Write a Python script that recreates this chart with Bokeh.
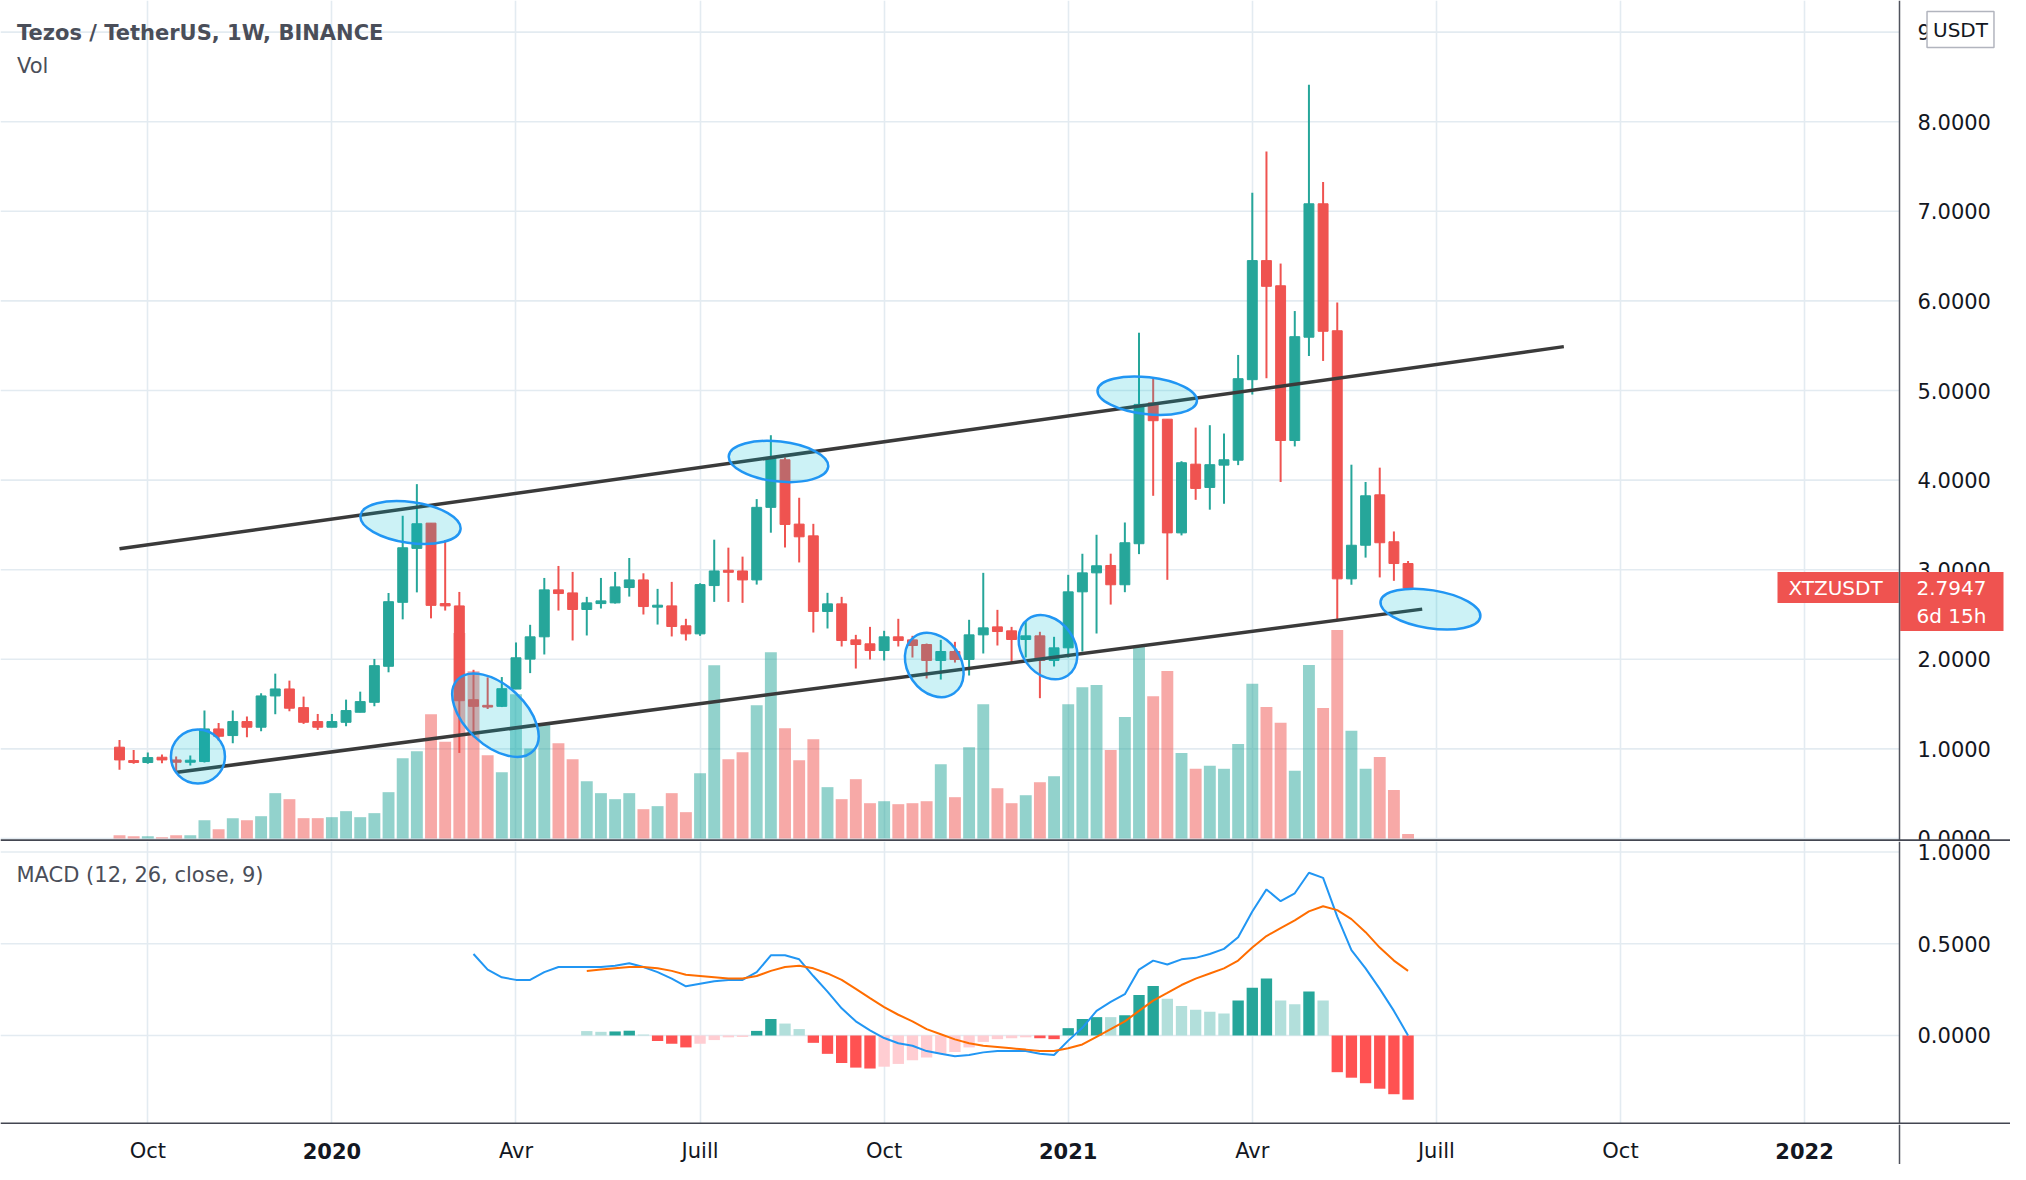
from bokeh.plotting import figure
from bokeh.models import (ColumnDataSource, FixedTicker, Label, Span, Range1d)
from bokeh.layouts import column
from bokeh.embed import file_html
from bokeh.resources import INLINE
from bokeh.core.properties import value

# ---------------- data (weekly XTZ/USDT, Binance) ----------------
opens = [1.019, 0.870, 0.848, 0.907, 0.877, 0.851, 0.859, 1.223, 1.149, 1.305,
         1.242, 1.591, 1.669, 1.461, 1.305, 1.242, 1.297, 1.409, 1.520, 1.922,
         2.636, 3.238, 3.520, 2.622, 2.596, 1.549, 1.486, 1.475, 1.668, 2.002,
         2.251, 2.775, 2.741, 2.556, 2.622, 2.630, 2.801, 2.886, 2.582, 2.596,
         2.374, 2.284, 2.823, 2.994, 2.986, 2.886, 3.696, 4.227, 3.509, 3.378,
         2.534, 2.619, 2.217, 2.173, 2.098, 2.251, 2.217, 2.165, 1.987, 2.087,
         1.998, 2.273, 2.362, 2.318, 2.221, 2.262, 1.987, 2.128, 2.753, 2.965,
         3.047, 2.832, 3.290, 4.862, 4.680, 3.411, 4.178, 3.918, 4.167, 4.222,
         5.121, 6.450, 6.169, 4.442, 5.595, 7.084, 5.667, 2.898, 3.273, 3.836,
         3.312, 3.069]
highs = [1.100, 0.989, 0.959, 0.937, 0.914, 0.926, 1.428, 1.290, 1.428, 1.361,
         1.621, 1.840, 1.762, 1.584, 1.390, 1.390, 1.550, 1.639, 2.004, 2.740,
         3.602, 3.955, 3.520, 3.332, 2.752, 1.883, 1.798, 1.802, 2.188, 2.385,
         2.908, 3.042, 2.975, 2.697, 2.908, 2.975, 3.131, 2.960, 2.786, 2.864,
         2.452, 2.849, 3.335, 3.246, 3.146, 3.788, 4.501, 4.253, 3.803, 3.512,
         2.742, 2.697, 2.273, 2.362, 2.318, 2.452, 2.262, 2.176, 2.217, 2.195,
         2.441, 2.965, 2.552, 2.362, 2.429, 2.307, 2.251, 2.943, 3.178, 3.390,
         3.179, 3.527, 5.645, 5.137, 4.680, 4.211, 4.586, 4.613, 4.520, 5.397,
         7.206, 7.669, 6.417, 5.887, 8.414, 7.327, 5.981, 4.172, 3.979, 4.139,
         3.427, 3.097]
lows = [0.766, 0.833, 0.833, 0.840, 0.740, 0.814, 0.848, 1.093, 1.063, 1.130,
        1.197, 1.387, 1.420, 1.279, 1.212, 1.242, 1.253, 1.409, 1.476, 1.855,
        2.446, 2.747, 2.457, 2.544, 0.955, 1.130, 1.445, 1.467, 1.668, 1.846,
        2.054, 2.544, 2.210, 2.266, 2.567, 2.622, 2.700, 2.500, 2.388, 2.255,
        2.210, 2.262, 2.641, 2.641, 2.630, 2.834, 3.413, 3.248, 3.081, 2.299,
        2.344, 2.143, 1.897, 1.998, 1.987, 2.143, 2.020, 1.786, 1.774, 1.964,
        1.819, 2.065, 2.154, 1.953, 2.020, 1.566, 1.920, 2.020, 2.087, 2.288,
        2.611, 2.749, 3.174, 3.825, 2.887, 3.383, 3.780, 3.670, 3.736, 4.167,
        4.955, 5.137, 3.979, 4.376, 5.386, 5.330, 2.424, 2.832, 3.135, 2.914,
        2.876, 2.780]
closes = [0.877, 0.848, 0.903, 0.877, 0.851, 0.874, 1.223, 1.141, 1.305, 1.242,
          1.591, 1.669, 1.454, 1.297, 1.242, 1.305, 1.428, 1.528, 1.929, 2.643,
          3.245, 3.513, 2.602, 2.596, 1.538, 1.475, 1.467, 1.672, 2.017, 2.251,
          2.775, 2.734, 2.556, 2.630, 2.652, 2.808, 2.886, 2.589, 2.604, 2.366,
          2.284, 2.834, 2.986, 2.971, 2.886, 3.696, 4.253, 3.505, 3.367, 2.534,
          2.619, 2.210, 2.165, 2.098, 2.251, 2.210, 2.154, 1.987, 2.087, 1.998,
          2.273, 2.351, 2.310, 2.221, 2.262, 1.987, 2.128, 2.753, 2.965, 3.044,
          2.832, 3.301, 4.845, 4.663, 3.411, 4.194, 3.907, 4.172, 4.227, 5.132,
          6.450, 6.163, 4.442, 5.601, 7.084, 5.661, 2.898, 3.273, 3.825, 3.301,
          3.069, 2.7947]
volumes_m = [0.37, 0.26, 0.26, 0.15, 0.37, 0.37, 2.04, 1.04, 2.27, 2.04,
             2.49, 5.06, 4.39, 2.27, 2.27, 2.38, 3.05, 2.38, 2.83, 5.17,
             8.96, 9.74, 13.87, 10.8, 22.94, 18.66, 9.29, 7.40, 16.10, 10.04,
             12.71, 10.63, 8.85, 6.39, 5.06, 4.39, 5.06, 3.27, 3.61, 5.06,
             2.94, 7.29, 19.33, 8.85, 9.63, 14.87, 20.78, 12.30, 8.74, 11.08,
             5.73, 4.39, 6.62, 3.94, 4.16, 3.83, 3.94, 4.16, 8.29, 4.61,
             10.19, 14.98, 5.61, 3.94, 4.83, 6.28, 6.95, 14.98, 16.88, 17.12,
             9.87, 13.57, 21.46, 15.89, 18.70, 9.54, 7.78, 8.11, 7.78, 10.54,
             17.26, 14.67, 12.91, 7.56, 19.36, 14.56, 23.28, 12.02, 7.78, 9.10,
             5.41, 0.50]

# MACD (12, 26, close, 9): first value on bar 25, signal/histogram from bar 33
macd_start = 25
macd_line = [0.444, 0.359, 0.317, 0.303, 0.303, 0.345, 0.373, 0.373, 0.373, 0.373,
             0.380, 0.394, 0.373, 0.345, 0.310, 0.268, 0.282, 0.296, 0.303, 0.303,
             0.345, 0.437, 0.437, 0.415, 0.324, 0.239, 0.148, 0.077, 0.028, -0.014,
             -0.042, -0.056, -0.085, -0.099, -0.113, -0.106, -0.092, -0.085, -0.085, -0.085,
             -0.099, -0.106, -0.028, 0.042, 0.134, 0.183, 0.225, 0.359, 0.408, 0.387,
             0.415, 0.423, 0.444, 0.472, 0.535, 0.676, 0.796, 0.732, 0.775, 0.887,
             0.859, 0.648, 0.465, 0.366, 0.254, 0.134, 0.000]
signal_start = 33
signal_line = [0.352, 0.359, 0.366, 0.373, 0.373, 0.366, 0.352, 0.331, 0.324, 0.317,
               0.310, 0.310, 0.324, 0.352, 0.373, 0.380, 0.366, 0.338, 0.303, 0.254,
               0.204, 0.155, 0.113, 0.077, 0.035, 0.007, -0.021, -0.042, -0.056, -0.063,
               -0.070, -0.077, -0.085, -0.085, -0.070, -0.049, -0.007, 0.035, 0.077, 0.134,
               0.190, 0.232, 0.275, 0.310, 0.338, 0.366, 0.408, 0.479, 0.542, 0.585,
               0.627, 0.676, 0.704, 0.683, 0.634, 0.563, 0.479, 0.408, 0.352]
histogram = [0.024, 0.020, 0.022, 0.026, 0.005, -0.030, -0.045, -0.065, -0.045, -0.025,
             -0.010, -0.008, 0.025, 0.090, 0.065, 0.035, -0.040, -0.100, -0.150, -0.175,
             -0.180, -0.170, -0.155, -0.135, -0.120, -0.100, -0.090, -0.065, -0.035, -0.020,
             -0.015, -0.010, -0.015, -0.020, 0.040, 0.090, 0.100, 0.100, 0.110, 0.220,
             0.270, 0.200, 0.160, 0.140, 0.130, 0.120, 0.190, 0.260, 0.310, 0.190,
             0.170, 0.240, 0.190, -0.200, -0.230, -0.260, -0.290, -0.320, -0.350]

tick_bars = [2, 15, 28, 41, 54, 67, 80, 93, 106, 119]
tick_labels = ["Oct", "2020", "Avr", "Juill", "Oct", "2021", "Avr", "Juill", "Oct", "2022"]
tick_bold = [False, True, False, False, False, True, False, False, False, True]
price_ticks = [0, 1, 2, 3, 4, 5, 6, 7, 8, 9]
macd_ticks = [0.0, 0.5, 1.0]

# drawings: trend channel and highlighted touches (bar index, price)
trend_x0 = [0.0, 4.07]
trend_y0 = [3.233, 0.74]
trend_x1 = [102.0, 92.0]
trend_y1 = [5.49, 2.56]
ell_x = [5.54, 20.55, 26.55, 46.54, 57.54, 65.57, 72.58, 92.58]
ell_y = [0.915, 3.527, 1.376, 4.208, 1.936, 2.135, 4.942, 2.560]
ell_w = [54, 101, 104, 100, 69, 69, 100, 101]
ell_h = [54, 41, 60, 40, 53, 53, 37, 38]
ell_deg = [0, -8, -43, -6.3, -55, -55, -6.5, -9]

# ---------------- styling / geometry ----------------
GREEN = "#26a69a"
RED = "#ef5350"
TXT = "#131722"
LEG = "#4a4e59"
GRID = "#e3ebf1"
AXIS = "#50535e"
FONT = "DejaVu Sans"
FS = "21px"

W = 2010
PX_PER_BAR = 14.16
X0 = -119 / PX_PER_BAR                 # left edge of the canvas in bar units
X_END = (W - 119) / PX_PER_BAR         # right edge of the canvas
SCALE_X = (1899 - 119) / PX_PER_BAR    # price-scale border
LABEL_X = (1917 - 119) / PX_PER_BAR    # start of price-scale labels
XR = Range1d(X0, X_END)

n = len(opens)
bars = list(range(n))
col = [GREEN if c >= o else RED for o, c in zip(opens, closes)]
src = ColumnDataSource(dict(
    x=bars, o=opens, h=highs, l=lows, c=closes,
    top=[max(o, c) for o, c in zip(opens, closes)],
    bot=[min(o, c) for o, c in zip(opens, closes)],
    vol=volumes_m, color=col))


def base_fig(height, yr):
    p = figure(width=W, height=height, x_range=XR, y_range=yr,
               x_axis_location=None, y_axis_location=None,
               output_backend="svg", toolbar_location=None, min_border=0)
    p.outline_line_color = None
    p.background_fill_color = "white"
    p.border_fill_color = "white"
    p.xgrid.ticker = FixedTicker(ticks=tick_bars)
    p.xgrid.grid_line_color = GRID
    p.xgrid.grid_line_width = 1.6
    p.ygrid.visible = False
    p.add_layout(Span(location=SCALE_X, dimension="height", line_color=AXIS, line_width=1.5))
    return p


def price_scale(p, ticks, fmt):
    # horizontal grid limited to the chart area, labels in the price scale
    p.segment(x0=[X0] * len(ticks), x1=[SCALE_X] * len(ticks), y0=ticks, y1=ticks,
              line_color=GRID, line_width=1.6, level="underlay")
    p.text(x=[LABEL_X] * len(ticks), y=ticks, text=[fmt % t for t in ticks],
           text_align="left", text_baseline="middle", text_font=value(FONT),
           text_font_size=FS, text_color=TXT)


# ---------------- price pane ----------------
p1 = base_fig(841, Range1d(-0.0335, 9.353))
p1.extra_y_ranges = {"vol": Range1d(-0.335, 93.53)}
price_scale(p1, price_ticks, "%.4f")

p1.vbar(x="x", top="vol", bottom=0, width=0.84, source=src, y_range_name="vol",
        fill_color="color", fill_alpha=0.5, line_color=None)
p1.segment(x0="x", y0="l", x1="x", y1="h", source=src, line_color="color", line_width=2)
p1.vbar(x="x", top="top", bottom="bot", width=0.7, source=src,
        fill_color="color", line_color="color", line_width=1)

p1.segment(x0=trend_x0, y0=trend_y0, x1=trend_x1, y1=trend_y1,
           line_color="#3a3a3a", line_width=3.5)
p1.ellipse(x=ell_x, y=ell_y, width=ell_w, height=ell_h,
           angle=[d * 3.14159265 / 180 for d in ell_deg],
           width_units="screen", height_units="screen",
           fill_color="#00bcd4", fill_alpha=0.2, line_color="#2196f3", line_width=2.5)

p1.add_layout(Span(location=-0.022, dimension="width", line_color="#434651", line_width=2.5))

p1.add_layout(Label(x=16.5 / PX_PER_BAR + X0, y=8.995, text="Tezos / TetherUS, 1W, BINANCE",
                    text_font=FONT, text_font_size=FS, text_font_style="bold",
                    text_color=LEG, text_baseline="alphabetic"))
p1.add_layout(Label(x=16.5 / PX_PER_BAR + X0, y=8.62, text="Vol", text_font=FONT,
                    text_font_size=FS, text_color=LEG, text_baseline="alphabetic"))

# last-price markers
last = closes[-1]
ppu = 89.6  # screen px per price unit
p1.quad(left=[(1777 - 119) / PX_PER_BAR], right=[SCALE_X - 0.05],
        top=[last + 16 / ppu], bottom=[last - 15 / ppu], fill_color=RED, line_color=None)
p1.quad(left=[SCALE_X + 0.05], right=[(2003 - 119) / PX_PER_BAR],
        top=[last + 16 / ppu], bottom=[last - 43 / ppu], fill_color=RED, line_color=None)
p1.text(x=[(1835 - 119) / PX_PER_BAR], y=[last], text=["XTZUSDT"], text_align="center",
        text_baseline="middle", text_font=value(FONT), text_font_size="20px",
        text_color="white")
p1.text(x=[(1951 - 119) / PX_PER_BAR] * 2, y=[last, last - 28 / ppu],
        text=["%.4f" % last, "6d 15h"], text_align="center", text_baseline="middle",
        text_font=value(FONT), text_font_size="20px", text_color="white")
p1.add_layout(Label(x=(1960 - 119) / PX_PER_BAR, y=(838 - 29) / ppu, text="USDT",
                    text_font=FONT, text_font_size="20px", text_color=TXT,
                    text_align="center", text_baseline="middle",
                    background_fill_color="white", border_line_color="#b2b5be",
                    border_line_width=1.5, padding=6))

# ---------------- MACD pane ----------------
p2 = base_fig(283, Range1d(-0.485, 1.057))
price_scale(p2, macd_ticks, "%.4f")

hist_x = list(range(signal_start, signal_start + len(histogram)))
hcol = []
prev = None
for hv in histogram:
    if hv >= 0:
        hcol.append(GREEN if (prev is not None and hv > prev) else "#b2dfdb")
    else:
        hcol.append("#ffcdd2" if (prev is not None and hv > prev) else "#ff5252")
    prev = hv
p2.vbar(x=hist_x, top=histogram, bottom=0, width=0.8, fill_color=hcol, line_color=None)
p2.line(list(range(macd_start, macd_start + len(macd_line))), macd_line,
        line_color="#2196f3", line_width=2)
p2.line(list(range(signal_start, signal_start + len(signal_line))), signal_line,
        line_color="#ff6d00", line_width=2)
p2.add_layout(Span(location=-0.479, dimension="width", line_color="#434651", line_width=2))
p2.add_layout(Label(x=16 / PX_PER_BAR + X0, y=0.877, text="MACD (12, 26, close, 9)",
                    text_font=FONT, text_font_size=FS, text_color=LEG,
                    text_baseline="alphabetic"))

# ---------------- time axis ----------------
p3 = base_fig(40, Range1d(0, 1))
p3.xgrid.visible = False
nb = [i for i, b in enumerate(tick_bold) if not b]
bb = [i for i, b in enumerate(tick_bold) if b]
p3.text(x=[tick_bars[i] for i in nb], y=[0.33] * len(nb), text=[tick_labels[i] for i in nb],
        text_align="center", text_baseline="middle", text_font=value(FONT),
        text_font_size=FS, text_color=TXT)
p3.text(x=[tick_bars[i] for i in bb], y=[0.33] * len(bb), text=[tick_labels[i] for i in bb],
        text_align="center", text_baseline="middle", text_font=value(FONT),
        text_font_size=FS, text_font_style="bold", text_color=TXT)

layout = column(p1, p2, p3, spacing=0)
open("out.html", "w").write(file_html(layout, INLINE))
